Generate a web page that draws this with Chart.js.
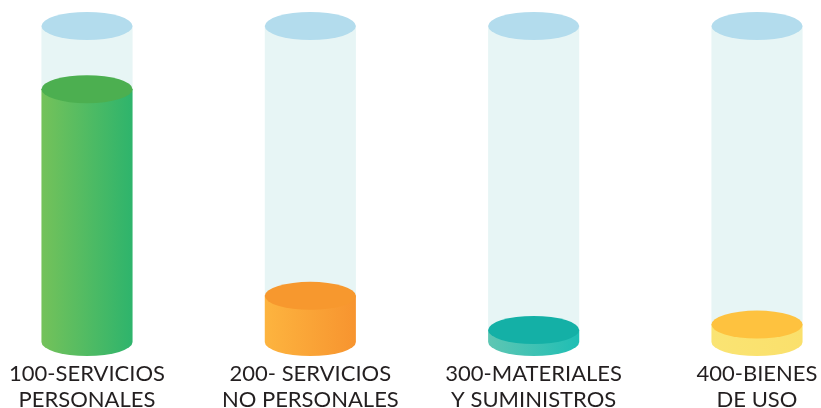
<!DOCTYPE html>
<html>
<head>
<meta charset="utf-8">
<script src="https://cdn.jsdelivr.net/npm/chart.js@4/dist/chart.umd.min.js"></script>
<style>
    html, body { margin: 0; padding: 0; background: #fff; }
    canvas { display: block; }
</style>
</head>
<body>
<canvas id="grafico" width="821" height="408"></canvas>
<script>
// Données
const categorias = [
    ['100-SERVICIOS', 'PERSONALES'],
    ['200- SERVICIOS', 'NO PERSONALES'],
    ['300-MATERIALES', 'Y SUMINISTROS'],
    ['400-BIENES', 'DE USO']
];
const capacidad = [100, 100, 100, 100];
const porcentajes = [80, 14.6, 3.8, 5.5];

// Couleurs des cylindres
const coloresLado = [
    ['#74c25a', '#2eb46c'],
    ['#fdb43f', '#f7942f'],
    ['#5ec6b3', '#1fbeb4'],
    ['#fae473', '#fae06c']
];
const coloresTapa = ['#4caf50', '#f7982e', '#14b0a6', '#fec23f'];
const COLOR_TUBO = '#e7f5f5';
const COLOR_TAPA_TUBO = '#b3dced';
const RY = 14;

function elipse(ctx, x, y, rx, ry, color) {
    ctx.beginPath();
    ctx.ellipse(x, y, rx, ry, 0, 0, Math.PI * 2);
    ctx.fillStyle = color;
    ctx.fill();
}

// Dessin des cylindres à partir des barres
const cilindros = {
    id: 'cilindros',
    afterDatasetsDraw(chart) {
        const ctx = chart.ctx;
        const tubos = chart.getDatasetMeta(0).data;
        const barras = chart.getDatasetMeta(1).data;
        ctx.save();
        tubos.forEach((tubo, i) => {
            const b = barras[i];
            const rx = tubo.width / 2;
            const x = tubo.x;
            const base = tubo.base;

            // tube de fond
            ctx.fillStyle = COLOR_TUBO;
            ctx.fillRect(x - rx, tubo.y, rx * 2, b.y - tubo.y + 1);

            // côté du cylindre coloré
            const grad = ctx.createLinearGradient(x - rx, 0, x + rx, 0);
            grad.addColorStop(0, coloresLado[i][0]);
            grad.addColorStop(1, coloresLado[i][1]);
            ctx.beginPath();
            ctx.moveTo(x - rx, b.y);
            ctx.lineTo(x - rx, base);
            ctx.ellipse(x, base, rx, RY, 0, Math.PI, 0, true);
            ctx.lineTo(x + rx, b.y);
            ctx.closePath();
            ctx.fillStyle = grad;
            ctx.fill();

            // dessus
            elipse(ctx, x, b.y, rx, RY, coloresTapa[i]);
            elipse(ctx, x, tubo.y, rx, RY, COLOR_TAPA_TUBO);
        });
        ctx.restore();
    }
};

new Chart(document.getElementById('grafico'), {
    type: 'bar',
    data: {
        labels: categorias,
        datasets: [
            { data: capacidad, backgroundColor: 'rgba(0,0,0,0)', grouped: false, categoryPercentage: 1, barPercentage: 0.408 },
            { data: porcentajes, backgroundColor: 'rgba(0,0,0,0)', grouped: false, categoryPercentage: 1, barPercentage: 0.408 }
        ]
    },
    options: {
        responsive: false,
        animation: false,
        devicePixelRatio: 1,
        layout: { padding: { left: 87, right: 64, top: 26, bottom: 0 } },
        plugins: {
            legend: { display: false },
            tooltip: { enabled: false }
        },
        scales: {
            x: {
                offset: false,
                grid: { display: false, drawTicks: false },
                border: { display: false },
                ticks: {
                    autoSkip: false,
                    maxRotation: 0,
                    padding: 19,
                    color: '#231f20',
                    font: { family: 'Lato', size: 22, lineHeight: 26 / 22 }
                },
                afterFit(scale) {
                    scale.height = 66;
                    scale.paddingLeft = 0;
                    scale.paddingRight = 0;
                }
            },
            y: {
                display: false,
                min: 0,
                max: 100
            }
        }
    },
    plugins: [cilindros]
});
</script>
</body>
</html>
